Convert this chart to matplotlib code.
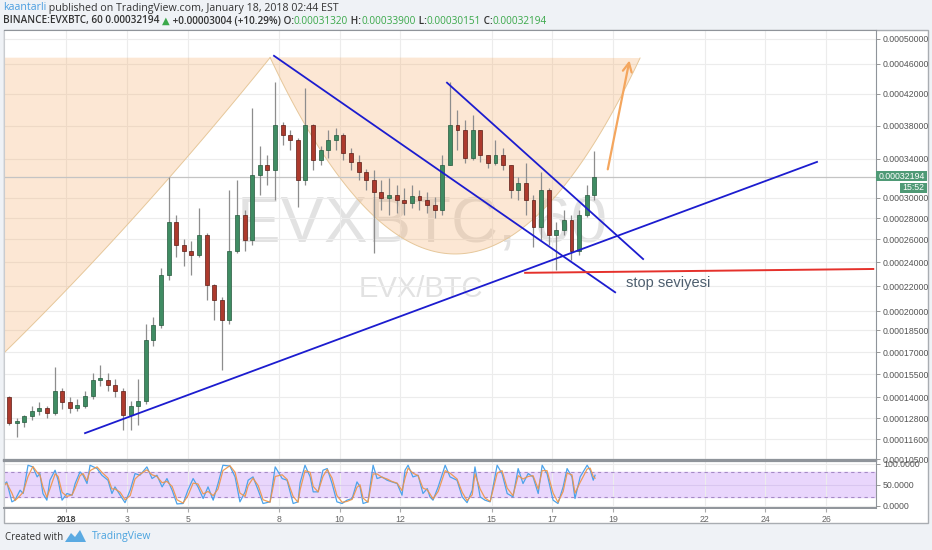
import numpy as np
import matplotlib.pyplot as plt
from matplotlib.patches import Rectangle, Polygon

plt.rcParams['font.family'] = ['Liberation Sans', 'DejaVu Sans']

W, H = 932, 550

# ---- 6h candles (day 0 = 2018-01-01) ----
c_open = [0.000140, 0.000125, 0.000126, 0.000129, 0.000132, 0.000134, 0.000131, 0.000144, 0.000137, 0.000134,
          0.000135, 0.000141, 0.000151, 0.000151, 0.000148, 0.000144, 0.000130, 0.000135, 0.000138, 0.000178,
          0.000189, 0.000229, 0.000276, 0.000255, 0.000250, 0.000246, 0.000264, 0.000221, 0.000209, 0.000193,
          0.000250, 0.000283, 0.000259, 0.000324, 0.000334, 0.000329, 0.000381, 0.000369, 0.000363, 0.000318,
          0.000381, 0.000339, 0.000351, 0.000363, 0.000369, 0.000347, 0.000337, 0.000327, 0.000318, 0.000306,
          0.000300, 0.000303, 0.000298, 0.000295, 0.000302, 0.000298, 0.000293, 0.000288, 0.000334, 0.000381,
          0.000375, 0.000341, 0.000375, 0.000345, 0.000336, 0.000345, 0.000334, 0.000308, 0.000315, 0.000298,
          0.000271, 0.000308, 0.000264, 0.000269, 0.000278, 0.000250, 0.000283, 0.000303]
c_high = [0.000141, 0.000128, 0.000130, 0.000135, 0.000137, 0.000135, 0.000160, 0.000146, 0.000140, 0.000139,
          0.000144, 0.000156, 0.000161, 0.000156, 0.000152, 0.000146, 0.000138, 0.000152, 0.000190, 0.000195,
          0.000235, 0.000322, 0.000283, 0.000260, 0.000258, 0.000290, 0.000266, 0.000222, 0.000211, 0.000308,
          0.000318, 0.000288, 0.000403, 0.000356, 0.000345, 0.000436, 0.000385, 0.000375, 0.000365, 0.000428,
          0.000383, 0.000356, 0.000375, 0.000378, 0.000372, 0.000353, 0.000345, 0.000330, 0.000329, 0.000318,
          0.000320, 0.000313, 0.000310, 0.000313, 0.000308, 0.000306, 0.000301, 0.000345, 0.000436, 0.000400,
          0.000388, 0.000394, 0.000375, 0.000345, 0.000363, 0.000353, 0.000334, 0.000322, 0.000336, 0.000303,
          0.000327, 0.000310, 0.000276, 0.000288, 0.000283, 0.000288, 0.000313, 0.000350]
c_low = [0.000124, 0.000117, 0.000123, 0.000127, 0.000130, 0.000128, 0.000130, 0.000133, 0.000131, 0.000132,
         0.000134, 0.000139, 0.000147, 0.000144, 0.000140, 0.000121, 0.000121, 0.000124, 0.000136, 0.000174,
         0.000187, 0.000225, 0.000244, 0.000237, 0.000229, 0.000244, 0.000209, 0.000193, 0.000158, 0.000190,
         0.000248, 0.000250, 0.000255, 0.000303, 0.000313, 0.000298, 0.000357, 0.000351, 0.000291, 0.000313,
         0.000329, 0.000334, 0.000341, 0.000351, 0.000339, 0.000329, 0.000318, 0.000308, 0.000248, 0.000288,
         0.000283, 0.000285, 0.000283, 0.000290, 0.000288, 0.000285, 0.000280, 0.000283, 0.000334, 0.000351,
         0.000336, 0.000339, 0.000337, 0.000331, 0.000334, 0.000329, 0.000300, 0.000298, 0.000283, 0.000253,
         0.000259, 0.000255, 0.000233, 0.000264, 0.000242, 0.000246, 0.000281, 0.000298]
c_close = [0.000125, 0.000126, 0.000129, 0.000132, 0.000134, 0.000131, 0.000144, 0.000137, 0.000134, 0.000135,
           0.000141, 0.000151, 0.000151, 0.000148, 0.000144, 0.000130, 0.000135, 0.000138, 0.000178, 0.000189,
           0.000229, 0.000276, 0.000255, 0.000250, 0.000246, 0.000264, 0.000221, 0.000209, 0.000193, 0.000250,
           0.000283, 0.000259, 0.000324, 0.000334, 0.000329, 0.000381, 0.000369, 0.000363, 0.000318, 0.000381,
           0.000339, 0.000351, 0.000363, 0.000369, 0.000347, 0.000337, 0.000327, 0.000318, 0.000306, 0.000300,
           0.000303, 0.000298, 0.000295, 0.000302, 0.000298, 0.000293, 0.000288, 0.000334, 0.000381, 0.000375,
           0.000341, 0.000375, 0.000345, 0.000336, 0.000345, 0.000334, 0.000308, 0.000315, 0.000298, 0.000271,
           0.000308, 0.000264, 0.000269, 0.000278, 0.000250, 0.000283, 0.000303, 0.00032194]
last_price = 0.00032194

# ---- stoch RSI pane ----
osc_day = [-2.01, -1.95, -1.78, -1.68, -1.51, -1.41, -1.25, -1.09, -0.95, -0.86,
           -0.76, -0.63, -0.53, -0.36, -0.26, -0.13, 0.03, 0.20, 0.30, 0.46,
           0.56, 0.69, 0.79, 1.02, 1.18, 1.38, 1.51, 1.61, 1.78, 1.94,
           2.11, 2.27, 2.43, 2.66, 2.83, 2.99, 3.16, 3.32, 3.49, 3.65,
           3.85, 4.01, 4.18, 4.34, 4.51, 4.67, 4.84, 5.00, 5.16, 5.39,
           5.56, 5.72, 5.89, 5.99, 6.15, 6.32, 6.48, 6.71, 6.88, 7.11,
           7.27, 7.47, 7.63, 7.70, 7.86, 8.03, 8.13, 8.29, 8.45, 8.59,
           8.75, 8.91, 9.08, 9.24, 9.41, 9.57, 9.67, 9.77, 9.93, 10.10,
           10.23, 10.39, 10.56, 10.72, 10.89, 11.05, 11.15, 11.25, 11.41, 11.58,
           11.74, 11.88, 11.97, 12.07, 12.24, 12.47, 12.63, 12.86, 13.03, 13.19,
           13.36, 13.45, 13.62, 13.78, 13.95, 14.18, 14.34, 14.51, 14.70, 14.87,
           15.03, 15.20, 15.36, 15.53, 15.66, 15.82, 16.02, 16.18, 16.35, 16.48,
           16.64, 16.74, 16.91, 17.14, 17.24, 17.34, 17.40]
stoch_k = [53, 57, 9, 13, 37, 29, 97, 93, 69, 77, 29, 13, 61, 85, 61, 13, 29, 25, 53, 81,
           73, 53, 97, 89, 73, 61, 29, 45, 25, 7, 37, 77, 73, 93, 65, 73, 45, 65, 37, 4,
           5, 37, 65, 45, 17, 45, 13, 53, 97, 95, 69, 9, 33, 61, 69, 37, 5, 9, 93, 65,
           61, 5, 9, 55, 97, 69, 33, 33, 85, 89, 53, 9, 5, 13, 17, 57, 45, 5, 9, 97,
           65, 69, 61, 57, 53, 25, 85, 97, 69, 73, 29, 41, 21, 13, 45, 97, 69, 61, 21, 7,
           37, 93, 21, 13, 9, 97, 77, 29, 21, 89, 53, 77, 69, 29, 97, 77, 13, 5, 45, 89,
           69, 17, 69, 97, 85, 61, 73]
stoch_d = [50, 54, 30, 12, 24, 32, 70, 94, 80, 74, 45, 20, 40, 76, 70, 32, 22, 26, 42, 72,
           77, 60, 84, 93, 80, 66, 40, 40, 32, 14, 24, 64, 75, 86, 74, 70, 55, 58, 46, 14,
           6, 24, 54, 52, 28, 34, 24, 40, 84, 96, 80, 30, 22, 48, 66, 48, 14, 8, 70, 74,
           63, 22, 8, 38, 84, 80, 46, 33, 70, 87, 66, 24, 8, 10, 15, 44, 50, 18, 8, 76,
           76, 68, 64, 58, 54, 36, 66, 90, 78, 72, 42, 38, 28, 16, 34, 84, 78, 64, 32, 12,
           26, 76, 40, 18, 10, 78, 84, 42, 24, 72, 64, 70, 72, 40, 84, 84, 30, 8, 34, 78,
           74, 30, 56, 88, 90, 70, 66]

# axis ticks
price_ticks = [0.000105, 0.000116, 0.000128, 0.00014, 0.000155, 0.00017, 0.000185, 0.0002,
               0.00022, 0.00024, 0.00026, 0.00028, 0.0003, 0.00034, 0.00038, 0.00042, 0.00046, 0.0005]
date_ticks = [0, 2, 4, 7, 9, 11, 14, 16, 18, 21, 23, 25]
date_labels = ['2018', '3', '5', '8', '10', '12', '15', '17', '19', '22', '24', '26']

# TradingView's price scale is neither linear nor log: breakpoints measured on the axis
scale_vals = np.array([0.00009] + price_ticks + [0.00055])
scale_rows = np.array([486, 459, 439, 418, 397, 374, 352, 330, 311, 286, 262, 239, 218, 198,
                       159, 126, 94, 64, 39, 8], dtype=float)


def fwd(p):
    return np.interp(p, scale_vals, -scale_rows)


def inv(u):
    return np.interp(u, -scale_rows[::-1], scale_vals[::-1])


def fr(x, y):
    return x / W, 1 - y / H


fig = plt.figure(figsize=(W / 100, H / 100), dpi=100, facecolor='#eff2f6')
fig.patches.append(Rectangle(fr(4, 523), 924 / W, 493 / H, transform=fig.transFigure,
                             facecolor='white', edgecolor='#a9adb2', lw=1, zorder=-5))

ax = fig.add_axes([4 / W, 1 - 460 / H, 872 / W, 430 / H])
ax2 = fig.add_axes([4 / W, 1 - 508 / H, 872 / W, 47 / H], sharex=ax)

ax.set_yscale('function', functions=(fwd, inv))
ax.set_ylim(0.0001045, 0.0005144)
ax.set_xlim(-2.04, 26.64)
ax2.set_ylim(-5.8, 107.2)

for a in (ax, ax2):
    a.set_axisbelow(True)
    for s in a.spines.values():
        s.set_color('#8f949a')
    a.spines['left'].set_color('#c9ccd0')
    a.yaxis.tick_right()
    a.tick_params(axis='y', length=3, width=0.6, color='#888', labelsize=6.3, labelcolor='#555', pad=2)
    a.set_xticks(date_ticks)
    a.grid(True, color='#ececec', lw=0.8)
ax.spines['bottom'].set_linewidth(1.6)
ax2.spines['top'].set_linewidth(1.6)
ax2.spines['bottom'].set_linewidth(1.4)

ax.set_yticks(price_ticks)
ax.set_yticklabels(['%.8f' % v for v in price_ticks])
ax.yaxis.set_minor_locator(plt.NullLocator())
ax.tick_params(axis='x', labelbottom=False, length=0)

ax2.set_yticks([0, 50, 100])
ax2.set_yticklabels(['0.0000', '50.0000', '100.0000'])
ax2.set_xticklabels(date_labels)
ax2.tick_params(axis='x', length=3, color='#aaa', labelsize=6.3, labelcolor='#666', pad=2)
ax2.get_xticklabels()[0].set_fontweight('bold')
ax2.get_xticklabels()[0].set_color('#444')

# watermark
ax.text(11.71, 0.000273, 'EVXBTC, 60', fontsize=47, color='#e2e2e2', ha='center', va='center', zorder=0.5)
ax.text(11.68, 0.000218, 'EVX/BTC', fontsize=21, color='#e2e2e2', ha='center', va='center', zorder=0.5)

# cup drawings, built in axes space so they look like the on-screen arcs
to_ax = ax.transData + ax.transAxes.inverted()
cup_top = 0.00047
(xl, yt), (xr, _), (xm, yb) = to_ax.transform([(6.71, cup_top), (18.88, cup_top), (12.8, 0.000247)])
xs = np.linspace(xl, xr, 120)
ys = yb + (yt - yb) * ((xs - xm) / ((xr - xl) / 2)) ** 2
peach = (0.96, 0.66, 0.38, 0.27)
ax.add_patch(Polygon(np.column_stack([xs, ys]), closed=True, transform=ax.transAxes,
                     facecolor=peach, edgecolor='none', zorder=1))
ax.plot(xs, ys, transform=ax.transAxes, color='#e6c79a', lw=0.7, zorder=1.1)

left_pts = to_ax.transform([(-2.01, 0.00017), (3.09, 0.00031), (6.71, cup_top)])
coef = np.polyfit(left_pts[:, 0], left_pts[:, 1], 2)
lx = np.linspace(left_pts[0, 0], left_pts[2, 0], 80)
ly = np.polyval(coef, lx)
ax.add_patch(Polygon(np.vstack([np.column_stack([lx, ly]), [left_pts[0, 0], yt]]), closed=True,
                     transform=ax.transAxes, facecolor=peach, edgecolor='none', zorder=1))
ax.plot(lx, ly, transform=ax.transAxes, color='#e6c79a', lw=0.7, zorder=1.1)

# candles
o = np.array(c_open)
c = np.array(c_close)
t = np.arange(len(c)) * 0.25 - 2 + 0.125
up = c >= o
ax.vlines(t, c_low, c_high, color='#8d8d8d', lw=0.9, zorder=2)
ax.bar(t, np.maximum(np.abs(c - o), 1.5e-6), bottom=np.minimum(o, c), width=0.13,
       color=np.where(up, '#3f8c63', '#ad3a2d'), edgecolor=np.where(up, '#26583d', '#5b1c15'),
       lw=0.5, zorder=3)

ax.axhline(last_price, color='#c4c4c4', lw=0.9, zorder=1.5)

# trend lines and notes
blue = '#1c1ccf'
ax.plot([6.84, 18.06], [0.000473, 0.000215], color=blue, lw=1.3, zorder=4)
ax.plot([12.53, 18.98], [0.000435, 0.0002426], color=blue, lw=1.3, zorder=4)
ax.plot([0.625, 24.70], [0.0001194, 0.000337], color=blue, lw=1.3, zorder=4)
ax.plot([15.10, 26.55], [0.000231, 0.0002342], color='#e5312b', lw=1.4, zorder=4)
ax.annotate('', xy=(18.55, 0.00047), xytext=(17.80, 0.0003266),
            arrowprops=dict(arrowstyle='->', color='#f4a65e', lw=1.6, mutation_scale=16), zorder=4)
ax.text(18.42, 0.0002226, 'stop seviyesi', fontsize=10.5, color='#4d5e6e', ha='left', va='center', zorder=4)

# stoch pane
ax2.axhspan(20, 80, color='#e9d6fc', zorder=0.5)
ax2.axhline(80, color='#a58ac6', lw=0.8, ls=(0, (3, 3)), zorder=1)
ax2.axhline(20, color='#a58ac6', lw=0.8, ls=(0, (3, 3)), zorder=1)
ax2.axhline(50, color='#d9c6f0', lw=0.8, zorder=0.8)
ax2.plot(osc_day, stoch_k, color='#4da3ea', lw=0.9, zorder=2)
ax2.plot(osc_day, stoch_d, color='#ee9446', lw=0.9, alpha=0.9, zorder=2)

# last price tags on the scale
fig.patches.append(Rectangle(fr(876, 181), 51 / W, 10 / H, transform=fig.transFigure,
                             facecolor='#4f9a76', edgecolor='none', zorder=5))
fig.text(*fr(901.5, 176), '0.00032194', color='white', fontsize=6.3, ha='center', va='center', zorder=6)
fig.patches.append(Rectangle(fr(900, 193), 27 / W, 10 / H, transform=fig.transFigure,
                             facecolor='#4f9a76', edgecolor='none', zorder=5))
fig.text(*fr(913.5, 188), '15:52', color='white', fontsize=6.3, ha='center', va='center', zorder=6)

# header lines
rend = fig.canvas.get_renderer()


def write_line(x0, y0, segs, size):
    x = x0
    for s, col, w in segs:
        tx = fig.text(x / W, 1 - y0 / H, s, color=col, fontsize=size, fontweight=w,
                      ha='left', va='center', family=['Open Sans', 'DejaVu Sans'])
        x = tx.get_window_extent(rend).x1


dark = '#333333'
grn = '#3aa84a'
write_line(3, 8, [('kaantarli', '#4a9ee0', 'normal'),
                  (' published on TradingView.com, January 18, 2018 02:44 EST', dark, 'normal')], 7.7)
write_line(3, 21, [('BINANCE:EVXBTC, 60 0.00032194 ', dark, 'semibold'), ('▲', grn, 'normal'),
                   (' +0.00003004 (+10.29%) O:', dark, 'semibold'), ('0.00031320', grn, 'normal'),
                   (' H:', dark, 'semibold'), ('0.00033900', grn, 'normal'),
                   (' L:', dark, 'semibold'), ('0.00030151', grn, 'normal'),
                   (' C:', dark, 'semibold'), ('0.00032194', grn, 'normal')], 7.2)

# footer
fig.text(*fr(5, 537), 'Created with', fontsize=7, color='#333', ha='left', va='center',
         family=['Open Sans', 'DejaVu Sans'])
logo = [fr(65, 542), fr(71, 533), fr(75, 537), fr(80, 530), fr(86, 542)]
fig.patches.append(Polygon(logo, closed=True, transform=fig.transFigure, facecolor='#5aaae2',
                           edgecolor='none'))
fig.text(*fr(92, 537), 'TradingView', fontsize=7.5, color='#4aa3df', ha='left', va='center',
         family=['Open Sans', 'DejaVu Sans'])

fig.savefig('out.png', dpi=100, facecolor=fig.get_facecolor())
